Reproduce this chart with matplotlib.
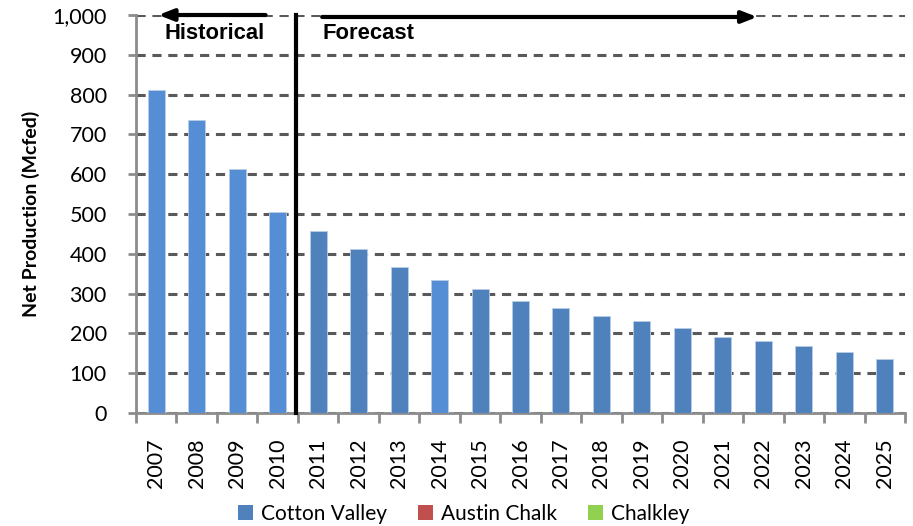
import matplotlib
matplotlib.use("Agg")
import matplotlib.pyplot as plt
from matplotlib.patches import Patch

years = [str(y) for y in range(2007, 2026)]
cotton_valley = [812, 737, 613, 505, 457, 412, 367, 334, 312, 281, 263, 244, 231, 213, 190, 181, 168, 154, 136]
austin_chalk = [0] * 19
chalkley = [0] * 19
light_years = ["2007", "2008", "2009", "2010", "2014"]
yticks = [0, 100, 200, 300, 400, 500, 600, 700, 800, 900, 1000]

plt.rcParams['font.family'] = ['Lato', 'DejaVu Sans']

fig = plt.figure(figsize=(9.13, 5.26), dpi=100)
ax = fig.add_axes([136/913, 1-413/526, (905-136)/913, (413-15)/526])

x = list(range(len(years)))
colors = ['#558ED5' if y in light_years else '#4F81BD' for y in years]
ax.bar(x, cotton_valley, width=0.42, color=colors, edgecolor='#B9CDE5', linewidth=0.6, zorder=3)

ax.set_xlim(-0.5, len(years) - 0.5)
ax.set_ylim(0, 1000)
ax.set_yticks(yticks)
ax.set_yticklabels([f"{v:,}" for v in yticks], fontsize=15.5)
ax.yaxis.grid(True, linestyle=(0, (3, 2.2)), color='#595959', linewidth=2.2, zorder=1)
ax.set_axisbelow(True)

ax.set_xticks(x)
ax.set_xticklabels(years, rotation=90, fontsize=15.5)
ax.tick_params(axis='x', length=0, pad=18)
ax.set_xticks([i - 0.5 for i in range(len(years) + 1)], minor=True)
ax.tick_params(axis='x', which='minor', length=7.5, width=2, color='#8C8C8C', direction='out')
ax.tick_params(axis='y', length=6, width=2, color='#8C8C8C', direction='out', pad=15)

for s in ['top', 'right']:
    ax.spines[s].set_visible(False)
for s in ['left', 'bottom']:
    ax.spines[s].set_color('#8C8C8C')
    ax.spines[s].set_linewidth(2)

ax.set_ylabel('Net Production (Mcfed)', fontsize=14, fontweight='bold')
ax.yaxis.set_label_coords(-(136-40)/769, 0.5)

# divider
ax.plot([3.45, 3.45], [0, 1000], color='black', linewidth=3, zorder=5, clip_on=False)
ax.annotate('', xy=(0.05, 1000), xytext=(2.7, 1000),
            arrowprops=dict(arrowstyle='-|>,head_length=0.9,head_width=0.35', color='black', lw=3, shrinkA=0, shrinkB=0),
            zorder=6, annotation_clip=False)
ax.annotate('', xy=(14.85, 995), xytext=(4.1, 995),
            arrowprops=dict(arrowstyle='-|>,head_length=0.9,head_width=0.35', color='black', lw=3, shrinkA=0, shrinkB=0),
            zorder=6, annotation_clip=False)
ax.text(0.2, 953, 'Historical', fontsize=15.8, fontweight='bold', family=['Liberation Sans'], va='center', ha='left')
ax.text(4.1, 953, 'Forecast', fontsize=15.8, fontweight='bold', family=['Liberation Sans'], va='center', ha='left')

handles = [Patch(facecolor='#4F81BD', label='Cotton Valley'),
           Patch(facecolor='#C0504D', label='Austin Chalk'),
           Patch(facecolor='#92D050', label='Chalkley')]
fig.legend(handles=handles, loc='center', bbox_to_anchor=(0.508, 1-514/526), ncol=3, frameon=False,
           fontsize=15, handlelength=0.7, handleheight=0.7, handletextpad=0.4, columnspacing=1.5)

fig.savefig('out.png', dpi=100)
